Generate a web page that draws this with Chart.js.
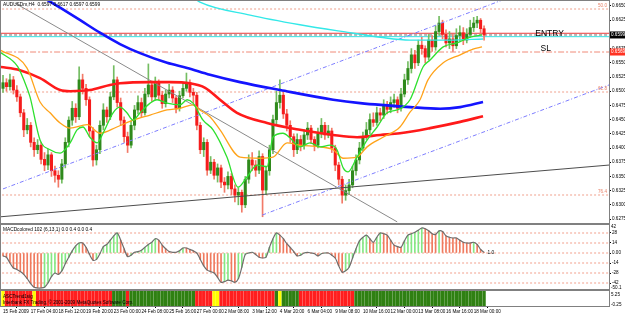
<!DOCTYPE html>
<html><head><meta charset="utf-8">
<script src="https://cdn.jsdelivr.net/npm/chart.js@4.4.1/dist/chart.umd.min.js"></script>
<style>
html,body{margin:0;padding:0;background:#fff;width:625px;height:316px;overflow:hidden}
canvas{position:absolute;left:0}
#cMain{top:0}
#cMacd{top:224px}
#cTrend{top:290px}
</style></head><body>
<canvas id="cMain" width="625" height="224"></canvas>
<canvas id="cMacd" width="625" height="66"></canvas>
<canvas id="cTrend" width="625" height="26"></canvas>
<script>
// --- H4 candles (bar index 0 = 15 Feb 2009 20:00) ---
const candleOpen=[.6505,.6515,.6508,.6520,.6502,.6490,.6462,.6432,.6440,.6410,
.6397,.6405,.6380,.6370,.6388,.6360,.6352,.6345,.6372,.6410,
.6449,.6470,.6455,.6520,.6505,.6485,.6430,.6379,.6397,.6440,
.6467,.6455,.6490,.6520,.6480,.6449,.6420,.6405,.6440,.6467,
.6480,.6462,.6495,.6511,.6490,.6515,.6493,.6478,.6495,.6502,
.6488,.6470,.6492,.6505,.6515,.6498,.6493,.6440,.6397,.6410,
.6361,.6375,.6352,.6365,.6340,.6335,.6350,.6328,.6317,.6322,
.6300,.6345,.6379,.6370,.6361,.6385,.6326,.6360,.6397,.6450,
.6480,.6493,.6460,.6440,.6420,.6397,.6415,.6405,.6423,.6435,
.6415,.6405,.6425,.6440,.6423,.6430,.6400,.6370,.6345,.6317,
.6325,.6335,.6360,.6379,.6400,.6420,.6432,.6450,.6445,.6462,
.6458,.6476,.6468,.6480,.6485,.6470,.6495,.6520,.6540,.6564,
.6550,.6581,.6575,.6560,.6590,.6578,.6605,.6620,.6600,.6585,
.6592,.6580,.6598,.6603,.6590,.6600,.6612,.6620,.6625,.6610];
const candleHigh=[.6528,.6522,.6530,.6526,.6510,.6495,.6468,.6452,.6445,.6418,
.6415,.6410,.6392,.6398,.6392,.6368,.6360,.6380,.6418,.6455,
.6482,.6478,.6543,.6530,.6512,.6490,.6436,.6405,.6448,.6478,
.6472,.6498,.6545,.6525,.6488,.6455,.6428,.6448,.6475,.6492,
.6488,.6505,.6548,.6518,.6525,.6520,.6500,.6502,.6512,.6508,
.6492,.6500,.6515,.6532,.6520,.6505,.6498,.6445,.6418,.6415,
.6385,.6380,.6372,.6370,.6348,.6358,.6355,.6335,.6330,.6326,
.6350,.6388,.6392,.6378,.6395,.6390,.6368,.6405,.6458,.6500,
.6520,.6498,.6468,.6448,.6425,.6425,.6422,.6432,.6445,.6440,
.6420,.6435,.6452,.6445,.6440,.6435,.6405,.6375,.6350,.6335,
.6345,.6368,.6388,.6410,.6428,.6445,.6460,.6462,.6472,.6470,
.6485,.6482,.6490,.6495,.6490,.6505,.6530,.6552,.6575,.6572,
.6590,.6595,.6580,.6600,.6598,.6615,.6632,.6625,.6608,.6605,
.6600,.6610,.6615,.6612,.6610,.6625,.6630,.6632,.6628,.6615];
const candleLow=[.6498,.6500,.6502,.6495,.6482,.6455,.6420,.6425,.6402,.6385,
.6390,.6372,.6360,.6362,.6350,.6340,.6331,.6338,.6365,.6402,
.6440,.6445,.6450,.6495,.6475,.6420,.6368,.6370,.6390,.6432,
.6445,.6450,.6485,.6472,.6440,.6410,.6392,.6400,.6432,.6460,
.6455,.6458,.6490,.6482,.6485,.6485,.6470,.6472,.6488,.6480,
.6462,.6465,.6488,.6500,.6490,.6480,.6432,.6390,.6385,.6352,
.6355,.6345,.6340,.6330,.6322,.6328,.6318,.6305,.6300,.6287,
.6295,.6338,.6360,.6350,.6355,.6279,.6318,.6352,.6390,.6442,
.6470,.6452,.6430,.6410,.6385,.6390,.6395,.6398,.6415,.6408,
.6395,.6400,.6418,.6415,.6418,.6392,.6360,.6335,.6303,.6308,
.6318,.6330,.6352,.6372,.6395,.6415,.6425,.6438,.6440,.6448,
.6452,.6460,.6462,.6472,.6462,.6465,.6490,.6512,.6532,.6540,
.6545,.6565,.6550,.6555,.6570,.6572,.6598,.6592,.6578,.6575,
.6570,.6575,.6588,.6582,.6585,.6595,.6605,.6612,.6600,.6590];
const candleClose=[.6515,.6508,.6520,.6502,.6490,.6462,.6432,.6440,.6410,.6397,
.6405,.6380,.6370,.6388,.6360,.6352,.6345,.6372,.6410,.6449,
.6470,.6455,.6520,.6505,.6485,.6430,.6379,.6397,.6440,.6467,
.6455,.6490,.6520,.6480,.6449,.6420,.6405,.6440,.6467,.6480,
.6462,.6495,.6511,.6490,.6515,.6493,.6478,.6495,.6502,.6488,
.6470,.6492,.6505,.6515,.6498,.6493,.6440,.6397,.6410,.6361,
.6375,.6352,.6365,.6340,.6335,.6350,.6328,.6317,.6322,.6300,
.6345,.6379,.6370,.6361,.6385,.6326,.6360,.6397,.6450,.6480,
.6493,.6460,.6440,.6420,.6397,.6415,.6405,.6423,.6435,.6415,
.6405,.6425,.6440,.6423,.6430,.6400,.6370,.6345,.6317,.6325,
.6335,.6360,.6379,.6400,.6420,.6432,.6450,.6445,.6462,.6458,
.6476,.6468,.6480,.6485,.6470,.6495,.6520,.6540,.6564,.6550,
.6581,.6575,.6560,.6590,.6578,.6605,.6620,.6600,.6585,.6592,
.6580,.6598,.6603,.6590,.6600,.6612,.6620,.6625,.6610,.6599];

// moving averages as [bar, price]
const maFast=[[-0.9,.6569],[4.3,.6543],[6.4,.6514],[7.8,.6490],[10.7,.6414],[13.6,.6397],[16.5,.6391],[19.4,.6409],[21.4,.6432],[23.1,.6437],[25.1,.6419],[27.2,.6409],[28.9,.6426],[31.8,.6462],[33.8,.6472],[35.8,.6462],[37.6,.6449],[39.6,.6462],[42.5,.6479],[44.5,.6485],[47.4,.6479],[51.2,.6476],[53.2,.6485],[54.9,.6479],[57.8,.6449],[60.7,.6432],[64.7,.6384],[67.9,.6331],[70.5,.6349],[73.4,.6370],[76.3,.6367],[78.0,.6419],[80.9,.6426],[82.9,.6418],[85.8,.6402],[88.7,.6409],[91.6,.6402],[94.5,.6405],[96.5,.6397],[98.3,.6365],[99.7,.6358],[102.3,.6384],[105.2,.6414],[108.1,.6437],[111.0,.6462],[113.9,.6467],[117.6,.6485],[121.4,.6543],[123.4,.6555],[127.2,.6578],[131.2,.6585],[135.0,.6595],[138.4,.6599]];
const maSlow=[[-0.9,.6573],[6.9,.6541],[10.7,.6481],[13.6,.6462],[16.5,.6444],[19.4,.6435],[24.3,.6441],[28.0,.6426],[32.9,.6437],[37.6,.6449],[42.5,.6458],[47.4,.6467],[51.2,.6470],[54.9,.6476],[56.9,.6467],[59.8,.6455],[62.7,.6432],[68.5,.6384],[74.3,.6382],[78.0,.6384],[82.1,.6409],[85.8,.6405],[91.6,.6402],[95.4,.6397],[98.3,.6382],[102.3,.6384],[105.2,.6402],[109.8,.6419],[114.7,.6437],[117.6,.6463],[120.5,.6485],[122.8,.6520],[127.2,.6550],[132.1,.6564],[135.8,.6574],[138.4,.6578]];
const maMid=[[-0.9,.6543],[4.9,.6537],[10.7,.6523],[16.5,.6502],[19.4,.6500],[25.1,.6502],[30.9,.6511],[33.8,.6514],[42.5,.6516],[48.3,.6516],[54.0,.6514],[58.4,.6506],[62.7,.6485],[67.6,.6462],[76.3,.6444],[85.8,.6432],[95.4,.6423],[102.3,.6419],[109.0,.6423],[114.7,.6426],[123.4,.6435],[132.1,.6446],[138.7,.6456]];
const maLong=[[9.2,.6675],[12.7,.6661],[16.5,.6647],[22.3,.6625],[28.0,.6603],[33.8,.6583],[39.6,.6567],[47.4,.6550],[53.2,.6541],[59.8,.6529],[68.5,.6516],[80.1,.6502],[95.4,.6485],[103.2,.6479],[117.6,.6472],[126.3,.6469],[132.1,.6472],[138.7,.6481]];
const maVeryLong=[[54.0,.6669],[56.9,.6657],[71.4,.6634],[85.8,.6617],[100.3,.6603],[109.0,.6595],[117.6,.6590],[129.2,.6590],[138.7,.6592]];

// drawn objects
const trendDown=[[3.5,.6655],[113.9,.6270]];
const trendUp=[[-0.6,.6279],[175.1,.6370]];
const channelUpper=[[0,.6328],[144.5,.6661]];
const channelLower=[[74.9,.6282],[175.1,.6511]];
const fibLevels=[.66447,.64986,.63173];
const fibNames=['50.0','61.8','76.4'];
const entryPrice=.6602, slPrice=.6569, bidPrice=.6599, cyanLevel=.6596;
const priceTicks=[.6650,.6625,.6600,.6575,.6550,.6525,.6500,.6475,.6450,.6425,.6400,.6375,.6350,.6325,.6300,.6275];

// MACD (one value per bar)
const macdVals=[-4,-6,-14,-21,-23,-26,-30,-36,-43,-48,
-49,-49,-48,-42,-33,-28,-30,-25,-15,-6,
3,10,14,14,8,-2,-10,-9,-1,9,
12,18,24,28,18,6,-5,-3,1,2,
4,8,12,15,20,18,11,6,2,1,
1,3,7,7,5,3,0,-9,-18,-24,
-26,-28,-34,-41,-40,-38,-39,-41,-36,-20,
-2,0,1,-2,-6,-7,-6,8,20,28,
25,20,13,8,2,-4,-3,0,1,0,
-1,-4,-1,0,0,-3,-7,-18,-27,-25,
-20,-7,6,17,22,25,20,15,22,28,
27,25,18,11,9,8,17,25,27,29,
32,35,34,31,27,26,31,30,24,22,
21,21,18,15,14,14,15,12,5,1];
const macdLevels=[28,14,0,-14,-28,-42];

// trend state blocks: [state, number of bars]  Y=flat R=down G=up
const trendRuns=[['Y',1],['R',8],['Y',1],['R',22],['G',4],['R',1],['G',19],['R',5],['Y',2],['R',16],['G',1],['Y',1],['G',5],['R',16],['G',38]];

const timeTickBars=[0,8,16,24,32,40,48,56,64,72,80,88,96,104,112,120,128,136];
const timeLabels=['15 Feb 2009','17 Feb 04:00','18 Feb 12:00','19 Feb 20:00','23 Feb 00:00','24 Feb 08:00','25 Feb 16:00','27 Feb 00:00','2 Mar 08:00','3 Mar 12:00','4 Mar 20:00','6 Mar 04:00','9 Mar 08:00','10 Mar 16:00','12 Mar 00:00','13 Mar 08:00','16 Mar 16:00','18 Mar 00:00'];

// --- layout ---
const X_MIN=-0.58, X_MAX=175.1;
const PRICE_MIN=.6268, PRICE_MAX=.66588;
const MACD_MIN=-50.4, MACD_MAX=39.2;
const AXIS_W=16;
const FONT='"Liberation Sans"';
const TICK_FONT={family:'Liberation Sans',size:4.6};

function pts(a){ return a.map(p=>({x:p[0],y:p[1]})); }
function hline(v){ return [{x:X_MIN-2,y:v},{x:X_MAX+2,y:v}]; }
function lineDs(data,color,width,extra){
  return Object.assign({type:'line',data:data,borderColor:color,borderWidth:width,pointRadius:0,fill:false},extra||{});
}
function fixedY(s){ s.width=AXIS_W; s.paddingTop=0; s.paddingBottom=0; }
const xHidden={type:'linear',display:false,min:X_MIN,max:X_MAX,offset:false};

const frame={
  id:'frame',
  afterDraw(chart){
    const {ctx,chartArea:a}=chart;
    ctx.save();
    ctx.strokeStyle='#808080'; ctx.lineWidth=1;
    ctx.strokeRect(a.left-0.5,a.top-0.5,a.right-a.left+1,a.bottom-a.top+1);
    ctx.restore();
  }
};

// ---------- price panel ----------
const bull=candleClose.map((c,i)=>c>=candleOpen[i]);
const mainDecor={
  id:'mainDecor',
  afterDatasetsDraw(chart){
    const {ctx,chartArea:a,scales:{x,y}}=chart;
    ctx.save();
    ctx.fillStyle='#000';
    ctx.font='4.8px '+FONT; ctx.textBaseline='top'; ctx.textAlign='left';
    ctx.fillText('AUDUSDm,H4  0.6597 0.6617 0.6597 0.6599',3,2);
    ctx.font='8.5px '+FONT; ctx.textBaseline='middle';
    ctx.fillText('ENTRY',x.getPixelForValue(153.8),y.getPixelForValue(entryPrice));
    ctx.textBaseline='bottom';
    ctx.fillText('SL',x.getPixelForValue(155.3),y.getPixelForValue(slPrice)+0.5);
    ctx.font='4.6px '+FONT; ctx.fillStyle='#e8836a'; ctx.textAlign='right';
    fibLevels.forEach((v,k)=>ctx.fillText(fibNames[k],a.right-2,y.getPixelForValue(v)-0.5));
    ctx.restore();
  },
  afterDraw(chart){
    const {ctx,chartArea:a,scales:{y}}=chart;
    ctx.save();
    ctx.font='4.6px '+FONT; ctx.textBaseline='middle'; ctx.textAlign='left';
    [[bidPrice,'#000'],[slPrice,'#ff3322']].forEach(b=>{
      const py=y.getPixelForValue(b[0]);
      ctx.fillStyle=b[1]; ctx.fillRect(a.right,py-3.5,AXIS_W,7);
      ctx.fillStyle='#fff'; ctx.fillText(b[0].toFixed(4),a.right+2,py);
    });
    ctx.restore();
  }
};

new Chart(document.getElementById('cMain'),{
  type:'bar',
  data:{datasets:[
    lineDs(pts(maFast),'#2ee02e',1.3,{order:1,cubicInterpolationMode:'monotone'}),
    lineDs(pts(maSlow),'#ffa31a',1.3,{order:1,cubicInterpolationMode:'monotone'}),
    lineDs(pts(maMid),'#ff1a1a',2.6,{order:2,cubicInterpolationMode:'monotone'}),
    lineDs(pts(maLong),'#1414ff',2.6,{order:2,cubicInterpolationMode:'monotone'}),
    lineDs(pts(maVeryLong),'#33e8e8',1.4,{order:2,cubicInterpolationMode:'monotone'}),
    lineDs(pts(trendDown),'#8a8a8a',1,{order:3}),
    lineDs(pts(trendUp),'#4d4d4d',1,{order:3}),
    lineDs(pts(channelUpper),'#7d7dff',1,{order:3,borderDash:[4,2,1,2]}),
    lineDs(pts(channelLower),'#7d7dff',1,{order:3,borderDash:[4,2,1,2]}),
    {type:'bar',order:4,grouped:false,barThickness:2.4,minBarLength:1,
     data:candleClose.map((c,i)=>({x:i,y:[candleOpen[i],c]})),
     backgroundColor:bull.map(b=>b?'#2f8a1c':'#f51c1c')},
    {type:'bar',order:5,grouped:false,barThickness:1,
     data:candleClose.map((c,i)=>({x:i,y:[candleLow[i],candleHigh[i]]})),
     backgroundColor:bull.map(b=>b?'#74bd62':'#f27a68')},
    lineDs(hline(entryPrice),'#e83a3a',1,{order:6}),
    lineDs(hline(bidPrice),'#707070',1,{order:6,borderDash:[3,2]}),
    lineDs(hline(cyanLevel),'#33e0e0',1,{order:6}),
    lineDs(hline(slPrice),'#f08a78',1,{order:6,borderDash:[6,2,2,2]}),
    ...fibLevels.map(v=>lineDs(hline(v),'#f0a08c',1,{order:7,borderDash:[2,2]}))
  ]},
  options:{
    responsive:false,animation:false,events:[],
    layout:{padding:{left:1,top:1,right:0,bottom:1}},
    plugins:{legend:{display:false},tooltip:{enabled:false}},
    scales:{
      x:xHidden,
      y:{position:'right',min:PRICE_MIN,max:PRICE_MAX,
        afterBuildTicks:s=>{s.ticks=priceTicks.map(v=>({value:v}));},
        afterFit:fixedY,
        grid:{drawOnChartArea:false,tickLength:2,color:'#000'},
        border:{color:'#000'},
        ticks:{font:TICK_FONT,color:'#000',padding:1,callback:v=>v.toFixed(4)}}
    }
  },
  plugins:[mainDecor,frame]
});

// ---------- MACD panel ----------
const macdDecor={
  id:'macdDecor',
  afterDatasetsDraw(chart){
    const {ctx,chartArea:a,scales:{x,y}}=chart;
    ctx.save();
    ctx.fillStyle='#000'; ctx.font='4.8px '+FONT; ctx.textBaseline='top';
    ctx.fillText('MACDcolored 102 (6,13,1) 0.0 0.4 0.0 0.4',3,3);
    ctx.textBaseline='middle';
    ctx.fillText('1.0',x.getPixelForValue(140),y.getPixelForValue(0));
    ctx.font='4.6px '+FONT;
    ctx.fillText('42',a.right+2,a.top+2);
    ctx.fillText('-50.1',a.right+2,a.bottom-1);
    ctx.restore();
  }
};
new Chart(document.getElementById('cMacd'),{
  type:'bar',
  data:{datasets:[
    lineDs(macdVals.map((v,i)=>({x:i,y:v})),'#6e6e6e',1.2,{order:1,tension:0.3}),
    {type:'bar',order:2,grouped:false,barThickness:1,
     data:macdVals.map((v,i)=>({x:i,y:v})),
     backgroundColor:macdVals.map((v,i)=>(i>0&&v>macdVals[i-1])?'#84e884':'#f07a5e')},
    ...macdLevels.map(v=>lineDs(hline(v),'#f2a08c',1,{order:3,borderDash:[2,2]}))
  ]},
  options:{
    responsive:false,animation:false,events:[],
    layout:{padding:{left:1,top:1,right:0,bottom:1}},
    plugins:{legend:{display:false},tooltip:{enabled:false}},
    scales:{
      x:xHidden,
      y:{position:'right',min:MACD_MIN,max:MACD_MAX,
        afterBuildTicks:s=>{s.ticks=macdLevels.map(v=>({value:v}));},
        afterFit:fixedY,
        grid:{drawOnChartArea:false,tickLength:2,color:'#000'},
        border:{color:'#000'},
        ticks:{font:TICK_FONT,color:'#000',padding:1,callback:v=>v===0?'0.00':String(v)}}
    }
  },
  plugins:[macdDecor,frame]
});

// ---------- trend state panel + time axis ----------
const stateColor={Y:'#ffff00',R:'#ff1e1e',G:'#2f8012'};
const trendState=[];
trendRuns.forEach(r=>{ for(let k=0;k<r[1];k++) trendState.push(r[0]); });
const trendDecor={
  id:'trendDecor',
  afterDatasetsDraw(chart){
    const {ctx,chartArea:a}=chart;
    ctx.save();
    ctx.fillStyle='#000'; ctx.font='4.6px '+FONT; ctx.textBaseline='top';
    ctx.fillText('ASCTrend1sig',3,a.top+3);
    ctx.fillText('Interbank FX Trading, \u00a9 2001-2009 MetaQuotes Software Corp.',3,a.top+9);
    ctx.textBaseline='middle';
    ctx.fillText('5.25',a.right+2,a.top+4);
    ctx.fillText('-0.25',a.right+2,a.bottom-1);
    ctx.restore();
  }
};
new Chart(document.getElementById('cTrend'),{
  type:'bar',
  data:{datasets:[{order:1,grouped:false,barThickness:2.7,
    data:trendState.map((s,i)=>({x:i,y:[0,1]})),
    backgroundColor:trendState.map(s=>stateColor[s])}]},
  options:{
    responsive:false,animation:false,events:[],
    layout:{padding:{left:1,top:1,right:0,bottom:0}},
    plugins:{legend:{display:false},tooltip:{enabled:false}},
    scales:{
      x:{type:'linear',min:X_MIN,max:X_MAX,offset:false,
        afterBuildTicks:s=>{s.ticks=timeTickBars.map(v=>({value:v}));},
        afterFit:s=>{s.height=10; s.paddingLeft=0; s.paddingRight=0;},
        grid:{drawOnChartArea:false,tickLength:2,color:'#000'},
        border:{color:'#000'},
        ticks:{autoSkip:false,maxRotation:0,minRotation:0,align:'start',padding:1,
          font:TICK_FONT,color:'#000',callback:(v,k)=>timeLabels[k]}},
      y:{position:'right',min:0,max:1,afterFit:fixedY,
        ticks:{display:false},grid:{display:false},border:{color:'#000'}}
    }
  },
  plugins:[trendDecor,frame]
});
</script>
</body></html>
